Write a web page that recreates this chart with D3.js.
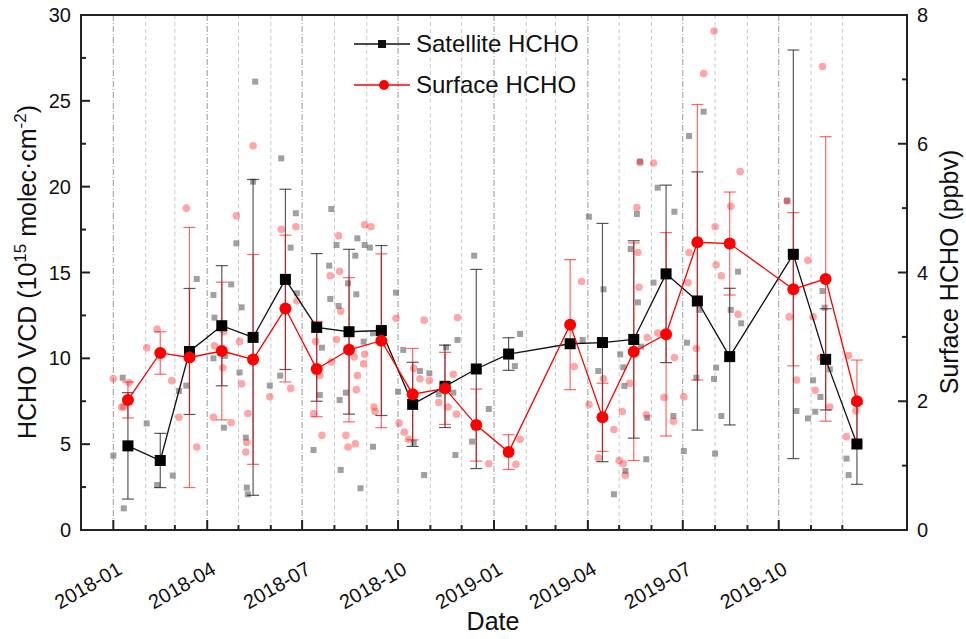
<!DOCTYPE html>
<html lang="en">
<head>
    <meta charset="UTF-8">
    <title>Satellite vs Surface HCHO</title>
    <script src="https://d3js.org/d3.v7.min.js"></script>
    <style>
        body {
            margin: 0;
            padding: 0;
            background-color: white;
        }
        svg {
            display: block;
            font-family: 'Liberation Sans', Arial, sans-serif;
        }
        .tick-label {
            font-size: 20px;
            fill: #111;
        }
        .axis-title {
            font-size: 25px;
            fill: #111;
        }
    </style>
</head>
<body>
    <svg width="966" height="639"></svg>

    <script>
        // monthly means (satellite in 1e15 molec/cm2, surface in ppbv)
        const months = ["2018-01", "2018-02", "2018-03", "2018-04", "2018-05", "2018-06",
                        "2018-07", "2018-08", "2018-09", "2018-10", "2018-11", "2018-12",
                        "2019-01", "2019-02", "2019-03", "2019-04", "2019-05", "2019-06",
                        "2019-07", "2019-08", "2019-09", "2019-10", "2019-11", "2019-12"];
        const satMean = [4.9, 4.05, 10.4, 11.9, 11.22, 14.6, 11.8, 11.55, 11.62, 7.32, 8.37, 9.38,
                         10.25, null, 10.85, 10.92, 11.1, 14.92, 13.34, 10.1, null, 16.06, 9.94, 5.01];
        const satSd = [3.1, 1.58, 3.67, 3.5, 9.2, 5.25, 4.3, 4.8, 4.95, 2.45, 2.4, 5.8,
                       0.95, null, 0, 6.94, 5.75, 5.17, 7.52, 3.98, null, 11.9, 2.95, 2.35];
        const surfMean = [2.02, 2.75, 2.68, 2.78, 2.65, 3.44, 2.50, 2.80, 2.94, 2.11, 2.20, 1.63,
                          1.21, null, 3.19, 1.75, 2.77, 3.04, 4.47, 4.45, null, 3.74, 3.90, 2.00];
        const surfSd = [0.28, 0.33, 2.02, 1.07, 1.63, 1.14, 0.74, 1.12, 1.35, 0.71, 0.56, 0.56,
                        0.27, null, 1.01, 0.53, 1.69, 1.58, 2.14, 0.80, null, 1.19, 2.21, 0.64];

        // individual satellite observations
        const satDates = ["2018-01-01", "2018-01-10", "2018-01-11", "2018-02-02", "2018-02-12", "2018-02-27",
            "2018-03-05", "2018-03-12", "2018-03-22", "2018-04-07", "2018-04-08", "2018-04-07", "2018-04-17",
            "2018-04-18", "2018-04-24", "2018-04-29", "2018-05-04", "2018-05-02", "2018-05-08", "2018-05-09",
            "2018-05-10", "2018-05-17", "2018-05-15", "2018-05-31", "2018-06-10", "2018-06-11", "2018-06-20",
            "2018-06-25", "2018-06-26", "2018-07-12", "2018-07-18", "2018-07-20", "2018-07-29", "2018-08-03",
            "2018-07-27", "2018-07-28", "2018-08-05", "2018-08-06", "2018-08-07", "2018-08-12", "2018-08-14",
            "2018-08-21", "2018-08-23", "2018-08-22", "2018-08-26", "2018-08-30", "2018-09-04", "2018-08-29",
            "2018-09-07", "2018-09-07", "2018-09-29", "2018-10-01", "2018-10-06", "2018-10-16", "2018-10-22",
            "2018-10-26", "2018-10-31", "2018-11-09", "2018-11-16", "2018-11-23", "2018-11-27", "2018-11-25",
            "2018-12-13", "2018-12-11", "2018-12-27", "2019-01-26", "2019-01-21", "2019-03-27", "2019-04-02",
            "2019-04-16", "2019-04-11", "2019-04-26", "2019-05-02", "2019-05-05", "2019-05-06", "2019-05-07",
            "2019-05-12", "2019-05-18", "2019-05-19", "2019-05-21", "2019-05-22", "2019-06-07", "2019-06-03",
            "2019-06-23", "2019-05-28", "2019-05-27", "2019-06-22", "2019-07-05", "2019-07-02", "2019-07-07",
            "2019-07-21", "2019-07-14", "2019-07-17", "2019-07-31", "2019-08-02", "2019-08-01", "2019-08-07",
            "2019-08-16", "2019-08-23", "2019-08-26", "2019-10-09", "2019-10-18", "2019-10-29", "2019-11-05",
            "2019-11-03", "2019-11-10", "2019-11-12", "2019-11-14", "2019-11-19", "2019-12-05", "2019-12-07"];
        const satValues = [4.33, 8.87, 1.26, 6.21, 2.62, 3.17,
            8.10, 8.41, 14.62, 13.69, 12.37, 10.0, 5.96,
            10.14, 14.31, 16.7, 12.97, 9.18, 5.38, 2.47,
            2.08, 26.12, 20.29, 8.41, 8.99, 21.65, 16.45,
            18.45, 13.79, 4.66, 7.86, 10.62, 18.7, 16.6,
            15.4, 13.46, 13.05, 7.57, 3.5, 8.0, 14.37,
            15.98, 16.99, 13.73, 2.43, 16.6, 16.45, 10.97,
            11.46, 4.85, 13.83, 8.06, 10.49, 5.09, 9.26,
            3.2, 9.13, 7.9, 10.64, 8.0, 11.07, 4.37,
            15.98, 5.15, 7.05, 11.42, 9.55, 11.07, 18.25,
            14.02, 9.26, 2.08, 10.23, 9.48, 8.39, 3.44,
            16.37, 18.41, 13.26, 21.46, 10.68, 19.94, 14.41,
            18.54, 6.54, 4.12, 6.64, 10.91, 4.6, 22.95,
            24.37, 8.87, 12.82, 8.8, 9.46, 4.45, 6.64,
            12.82, 15.05, 12.04, 19.18, 6.93, 6.5, 6.89,
            8.72, 7.75, 13.92, 12.95, 9.36, 4.16, 3.2];

        // individual surface observations (ppbv)
        const surfDates = ["2018-01-01", "2018-01-16", "2018-01-09", "2018-01-11", "2018-02-02", "2018-02-12",
            "2018-02-26", "2018-03-05", "2018-03-12", "2018-03-22", "2018-04-07", "2018-04-08", "2018-04-16",
            "2018-04-17", "2018-04-24", "2018-04-29", "2018-05-02", "2018-05-04", "2018-05-10", "2018-05-09",
            "2018-05-08", "2018-05-15", "2018-05-31", "2018-06-11", "2018-06-25", "2018-06-26", "2018-06-20",
            "2018-07-12", "2018-07-14", "2018-07-18", "2018-07-20", "2018-07-28", "2018-08-05", "2018-08-06",
            "2018-08-07", "2018-08-03", "2018-07-29", "2018-08-12", "2018-08-14", "2018-08-21", "2018-08-20",
            "2018-08-23", "2018-08-22", "2018-08-30", "2018-09-05", "2018-08-30", "2018-08-29", "2018-09-08",
            "2018-09-09", "2018-09-29", "2018-10-02", "2018-10-07", "2018-10-11", "2018-10-16", "2018-10-22",
            "2018-10-26", "2018-10-31", "2018-11-09", "2018-11-18", "2018-11-23", "2018-11-26", "2018-11-27",
            "2018-12-27", "2019-01-22", "2019-01-26", "2019-03-26", "2019-03-19", "2019-04-02", "2019-04-16",
            "2019-04-11", "2019-04-26", "2019-05-04", "2019-05-01", "2019-05-05", "2019-05-07", "2019-05-11",
            "2019-05-18", "2019-05-19", "2019-05-20", "2019-05-21", "2019-06-03", "2019-05-28", "2019-06-07",
            "2019-06-23", "2019-05-27", "2019-06-13", "2019-06-22", "2019-07-02", "2019-07-06", "2019-07-07",
            "2019-07-14", "2019-07-21", "2019-07-31", "2019-08-01", "2019-08-02", "2019-08-07", "2019-08-16",
            "2019-08-25", "2019-08-23", "2019-10-09", "2019-10-11", "2019-10-18", "2019-10-29", "2019-11-03",
            "2019-11-05", "2019-11-12", "2019-11-10", "2019-11-19", "2019-12-07", "2019-12-05", "2019-12-14"];
        const surfValues = [2.35, 2.29, 1.91, 1.91, 2.83, 3.12,
            2.32, 1.75, 5.00, 1.29, 1.75, 2.86, 2.52,
            3.08, 1.67, 4.88, 2.93, 2.27, 1.81, 1.36,
            1.21, 5.97, 2.07, 4.67, 4.71, 3.56, 2.20,
            1.81, 2.93, 2.40, 1.47, 3.95, 4.57, 4.02,
            3.40, 2.96, 2.61, 1.47, 1.29, 1.34, 2.69,
            2.40, 2.18, 4.74, 4.71, 2.73, 2.58, 1.91,
            1.84, 3.29, 1.66, 1.52, 1.41, 2.51, 2.35,
            3.26, 2.32, 1.98, 1.91, 2.42, 1.80, 3.30,
            1.03, 1.02, 1.41, 3.86, 2.54, 1.95, 2.35,
            1.12, 1.56, 1.84, 1.08, 1.03, 0.85, 2.28,
            5.01, 4.31, 3.77, 5.71, 5.70, 2.99, 3.06,
            2.68, 1.79, 2.06, 1.69, 2.07, 3.84, 4.31,
            2.82, 7.09, 7.75, 4.71, 4.12, 3.95, 5.03,
            5.57, 3.35, 5.11, 3.31, 2.33, 4.19, 3.31,
            2.17, 7.20, 2.68, 1.91, 2.71, 1.45, 1.85];

        const leftTicks = [0, 5, 10, 15, 20, 25, 30];
        const rightTicks = [0, 2, 4, 6, 8];

        const svg = d3.select("svg");
        const margin = { left: 81, right: 907, top: 15, bottom: 530 };
        const parseDay = d3.timeParse("%Y-%m-%d");
        const parseMonth = d3.timeParse("%Y-%m");

        const xScale = d3.scaleTime()
                         .domain([new Date(2017, 11, 1), new Date(2020, 1, 1)])
                         .range([margin.left, margin.right]);
        const yLeft = d3.scaleLinear().domain([0, 30]).range([margin.bottom, margin.top]);
        const yRight = d3.scaleLinear().domain([0, 8]).range([margin.bottom, margin.top]);

        const monthTicks = d3.timeMonth.range(new Date(2018, 0, 1), new Date(2020, 0, 1));
        const isMajor = function(d) { return d.getMonth() % 3 == 0; };

        // vertical grid at every month
        svg.selectAll(".grid")
           .data(monthTicks)
           .enter()
           .append("line")
           .attr("class", "grid")
           .attr("x1", function(d) { return xScale(d); })
           .attr("x2", function(d) { return xScale(d); })
           .attr("y1", margin.top)
           .attr("y2", margin.bottom)
           .attr("stroke", function(d) { return isMajor(d) ? "#999" : "#c8c8c8"; })
           .attr("stroke-width", 1)
           .attr("stroke-dasharray", function(d) { return isMajor(d) ? "6,2,1,2" : "4,3"; });

        // scatter of single observations
        svg.selectAll(".sat-dot")
           .data(satDates)
           .enter()
           .append("rect")
           .attr("class", "sat-dot")
           .attr("x", function(d) { return xScale(parseDay(d)) - 3; })
           .attr("y", function(d, i) { return yLeft(satValues[i]) - 3; })
           .attr("width", 6)
           .attr("height", 6)
           .attr("fill", "#777")
           .attr("fill-opacity", 0.7);

        svg.selectAll(".surf-dot")
           .data(surfDates)
           .enter()
           .append("circle")
           .attr("class", "surf-dot")
           .attr("cx", function(d) { return xScale(parseDay(d)); })
           .attr("cy", function(d, i) { return yRight(surfValues[i]); })
           .attr("r", 3.8)
           .attr("fill", "#ff2020")
           .attr("fill-opacity", 0.4);

        // build monthly tables
        const satData = [];
        const surfData = [];
        months.forEach(function(m, i) {
            const date = d3.timeDay.offset(parseMonth(m), 14);
            if (satMean[i] != null) satData.push({ date: date, mean: satMean[i], sd: satSd[i] });
            if (surfMean[i] != null) surfData.push({ date: date, mean: surfMean[i], sd: surfSd[i] });
        });

        function drawErrorBars(data, y, color, opacity) {
            const g = svg.append("g")
                         .attr("stroke", color)
                         .attr("stroke-opacity", opacity)
                         .attr("stroke-width", 1.2);
            data.filter(function(d) { return d.sd > 0; }).forEach(function(d) {
                const x = xScale(d.date);
                g.append("line")
                 .attr("x1", x).attr("x2", x)
                 .attr("y1", y(d.mean - d.sd)).attr("y2", y(d.mean + d.sd));
                [d.mean - d.sd, d.mean + d.sd].forEach(function(v) {
                    g.append("line")
                     .attr("x1", x - 6).attr("x2", x + 6)
                     .attr("y1", y(v)).attr("y2", y(v));
                });
            });
        }

        drawErrorBars(satData, yLeft, "#222", 0.75);
        drawErrorBars(surfData, yRight, "#ff0000", 0.6);

        // satellite series
        svg.append("path")
           .datum(satData)
           .attr("fill", "none")
           .attr("stroke", "#111")
           .attr("stroke-width", 1.3)
           .attr("d", d3.line()
                        .x(function(d) { return xScale(d.date); })
                        .y(function(d) { return yLeft(d.mean); }));

        svg.selectAll(".sat-mean")
           .data(satData)
           .enter()
           .append("rect")
           .attr("class", "sat-mean")
           .attr("x", function(d) { return xScale(d.date) - 5.5; })
           .attr("y", function(d) { return yLeft(d.mean) - 5.5; })
           .attr("width", 11)
           .attr("height", 11)
           .attr("fill", "black");

        // surface series
        svg.append("path")
           .datum(surfData)
           .attr("fill", "none")
           .attr("stroke", "#ff0000")
           .attr("stroke-width", 1.3)
           .attr("d", d3.line()
                        .x(function(d) { return xScale(d.date); })
                        .y(function(d) { return yRight(d.mean); }));

        svg.selectAll(".surf-mean")
           .data(surfData)
           .enter()
           .append("circle")
           .attr("class", "surf-mean")
           .attr("cx", function(d) { return xScale(d.date); })
           .attr("cy", function(d) { return yRight(d.mean); })
           .attr("r", 6)
           .attr("fill", "#ff0000");

        // frame
        svg.append("rect")
           .attr("x", margin.left)
           .attr("y", margin.top)
           .attr("width", margin.right - margin.left)
           .attr("height", margin.bottom - margin.top)
           .attr("fill", "none")
           .attr("stroke", "#222")
           .attr("stroke-width", 2);

        // bottom ticks (inward)
        svg.selectAll(".xtick")
           .data(monthTicks)
           .enter()
           .append("line")
           .attr("class", "xtick")
           .attr("x1", function(d) { return xScale(d); })
           .attr("x2", function(d) { return xScale(d); })
           .attr("y1", margin.bottom)
           .attr("y2", function(d) { return margin.bottom - (isMajor(d) ? 10 : 5); })
           .attr("stroke", "#222")
           .attr("stroke-width", 2);

        svg.selectAll(".xlabel")
           .data(monthTicks.filter(isMajor))
           .enter()
           .append("text")
           .attr("class", "tick-label")
           .attr("text-anchor", "end")
           .attr("transform", function(d) {
               return "translate(" + (xScale(d) + 10) + ",573) rotate(-30)";
           })
           .text(d3.timeFormat("%Y-%m"));

        // left axis
        const leftMinor = d3.range(2.5, 30, 5);
        svg.selectAll(".ytick-l")
           .data(leftTicks.concat(leftMinor))
           .enter()
           .append("line")
           .attr("class", "ytick-l")
           .attr("x1", margin.left)
           .attr("x2", function(d) { return margin.left + (d % 5 == 0 ? 9 : 5); })
           .attr("y1", function(d) { return yLeft(d); })
           .attr("y2", function(d) { return yLeft(d); })
           .attr("stroke", "#222")
           .attr("stroke-width", 2);

        svg.selectAll(".ylabel-l")
           .data(leftTicks)
           .enter()
           .append("text")
           .attr("class", "tick-label")
           .attr("text-anchor", "end")
           .attr("x", margin.left - 10)
           .attr("y", function(d) { return yLeft(d) + 7; })
           .text(function(d) { return d; });

        // right axis
        const rightMinor = d3.range(1, 8, 2);
        svg.selectAll(".ytick-r")
           .data(rightTicks.concat(rightMinor))
           .enter()
           .append("line")
           .attr("class", "ytick-r")
           .attr("x1", margin.right)
           .attr("x2", function(d) { return margin.right - (d % 2 == 0 ? 9 : 5); })
           .attr("y1", function(d) { return yRight(d); })
           .attr("y2", function(d) { return yRight(d); })
           .attr("stroke", "#222")
           .attr("stroke-width", 2);

        svg.selectAll(".ylabel-r")
           .data(rightTicks)
           .enter()
           .append("text")
           .attr("class", "tick-label")
           .attr("text-anchor", "start")
           .attr("x", margin.right + 10)
           .attr("y", function(d) { return yRight(d) + 7; })
           .text(function(d) { return d; });

        // axis titles
        const leftTitle = svg.append("text")
           .attr("class", "axis-title")
           .attr("text-anchor", "middle")
           .attr("transform", "translate(36,272) rotate(-90)");
        leftTitle.append("tspan").text("HCHO VCD (10");
        leftTitle.append("tspan").attr("dy", -10).style("font-size", "17px").text("15");
        leftTitle.append("tspan").attr("dy", 10).text(" molec·cm");
        leftTitle.append("tspan").attr("dy", -10).style("font-size", "17px").text("-2");
        leftTitle.append("tspan").attr("dy", 10).text(")");

        svg.append("text")
           .attr("class", "axis-title")
           .attr("text-anchor", "middle")
           .attr("transform", "translate(958,272) rotate(-90)")
           .text("Surface HCHO (ppbv)");

        svg.append("text")
           .attr("class", "axis-title")
           .attr("text-anchor", "middle")
           .attr("x", 493)
           .attr("y", 630)
           .text("Date");

        // legend
        const legendItems = [
            { label: "Satellite HCHO", color: "#111", shape: "square", y: 44 },
            { label: "Surface HCHO", color: "#ff0000", shape: "circle", y: 85 }
        ];
        legendItems.forEach(function(d) {
            svg.append("line")
               .attr("x1", 354).attr("x2", 410)
               .attr("y1", d.y).attr("y2", d.y)
               .attr("stroke", d.color)
               .attr("stroke-width", 1.3);
            if (d.shape == "square") {
                svg.append("rect")
                   .attr("x", 378).attr("y", d.y - 4)
                   .attr("width", 8).attr("height", 8)
                   .attr("fill", d.color);
            } else {
                svg.append("circle")
                   .attr("cx", 384).attr("cy", d.y)
                   .attr("r", 5)
                   .attr("fill", d.color);
            }
            svg.append("text")
               .attr("x", 416)
               .attr("y", d.y + 8)
               .style("font-size", "24px")
               .attr("fill", "#111")
               .text(d.label);
        });
    </script>
</body>
</html>
